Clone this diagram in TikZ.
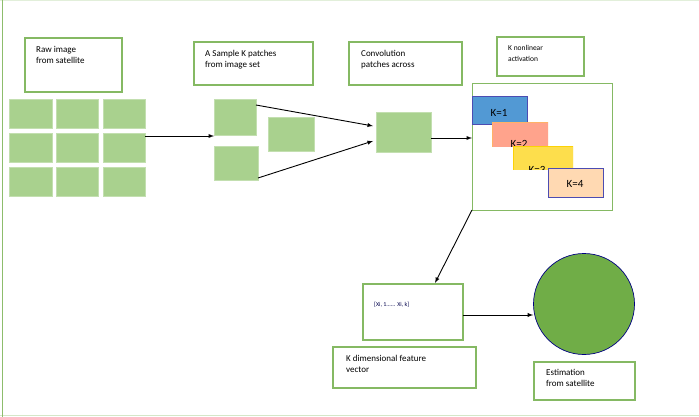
\documentclass[tikz,border=0pt]{standalone}
\usepackage{fontspec}
\setmainfont{Carlito}
\definecolor{lg}{HTML}{70AD47}
\definecolor{tl}{HTML}{A9D18E}
\definecolor{tlb}{HTML}{8FC16F}
\begin{document}
\begin{tikzpicture}[x=1pt,y=-1pt,
 lbl/.style={draw=lg!85!white,line width=1.2pt,fill=white},
 tile/.style={draw=tl!70!white,fill=tl,line width=0.6pt},
 arr/.style={-latex,line width=0.9pt},
 txt/.style={font=\fontsize{9}{11}\selectfont,align=left,anchor=north west,inner sep=0}]
\useasboundingbox (0,0) rectangle (699,417);
\draw[lg!20!white,line width=1pt] (0,0.5) -- (699,0.5);
\draw[lg!30!white,line width=1pt] (0,415) -- (699,415);
\draw[lg!80!white,line width=1pt] (2,0) -- (2,417);
% raw image
\draw[lbl] (25,38) rectangle (122,92);
\node[txt] (t1) at (36,46) {Raw image\\from satellite};
\foreach \c/\xa/\xb in {1/9/52,2/56/98,3/103/145}
 \foreach \r/\ya/\yb in {1/99/128,2/133/162,3/167/196}
  \draw[tile] (\xa,\ya) rectangle (\xb,\yb) node[midway,inner sep=0] (g\c\r) {};
% sample
\draw[lbl] (194,42) rectangle (313,85);
\node[txt] at (205,50) {A Sample K patches\\from image set};
\draw[tile] (214,99) rectangle (256,135) node[midway,inner sep=0] (s1) {};
\draw[tile] (214,146) rectangle (258,180) node[midway,inner sep=0] (s2) {};
\draw[tile] (268,117) rectangle (314,151) node[midway,inner sep=0] (s3) {};
\coordinate (a1) at (145,136); \coordinate (a2) at (214,136);
\draw[arr] (a1) -- (a2);
% convolution
\draw[lbl] (349,42) rectangle (462,85);
\node[txt] at (361,50) {Convolution\\patches across};
\draw[tile] (376,112) rectangle (431,152) node[midway,inner sep=0] (cv) {};
\coordinate (l1) at (256,105); \coordinate (l2) at (258,178);
\coordinate (c1) at (373,126); \coordinate (c2) at (373,141);
\draw[arr] (l1) -- (c1);
\draw[arr] (l2) -- (c2);
\coordinate (c3) at (431,138); \coordinate (b1) at (472,138);
\draw[arr] (c3) -- (b1);
% nonlinear
\draw[lbl] (497,37) rectangle (584,76);
\node[txt,font=\fontsize{7.5}{11}\selectfont] at (508,45) {K nonlinear\\activation};
\draw[lbl,line width=1pt] (472,84) rectangle (612,210);
\draw[draw=blue!40!gray,fill=blue!45!cyan!60!gray!85!white,line width=1pt] (472,97) rectangle (527,125);
\node[font=\fontsize{11}{12}\selectfont] at (499,113) {K=1};
\begin{scope}
\clip (492,122) rectangle (548,147);
\draw[draw=orange!60!white,fill=orange!40!red!45!white,line width=0.6pt] (492,122) rectangle (548,147);
\node[font=\fontsize{11}{12}\selectfont] at (519,144) {K=2};
\end{scope}
\begin{scope}
\clip (513,146) rectangle (573,170);
\draw[draw=yellow!70!orange,fill=yellow!70!orange!70!white,line width=0.6pt] (513,146) rectangle (573,170);
\node[font=\fontsize{11}{12}\selectfont] at (537,170) {K=3};
\end{scope}
\draw[draw=blue!40!gray,fill=orange!30!white,line width=1pt] (548,169) rectangle (603,197);
\node[font=\fontsize{11}{12}\selectfont] (k4) at (575,184) {K=4};
% vector
\coordinate (b2) at (472,210); \coordinate (v1) at (435,283);
\draw[arr] (b2) -- (v1);
\draw[lbl] (363,284) rectangle (463,340);
\node[txt,font=\fontsize{6}{7}\selectfont,text=blue!30!black] at (374,302) {[Xi, 1...... Xi, k]};
\draw[lbl] (333,347) rectangle (476,388);
\node[txt] at (346,355) {K dimensional feature\\vector};
\node[circle,draw=blue!50!black,fill=lg,minimum size=101pt,inner sep=0,line width=0.7pt] (est) at (584,304) {};
\coordinate (v2) at (463,315);
\draw[arr] (v2) -- (est.west|-v2);
\draw[lbl] (534,362) rectangle (635,400);
\node[txt] at (546,369) {Estimation\\from satellite};
\end{tikzpicture}
\end{document}
